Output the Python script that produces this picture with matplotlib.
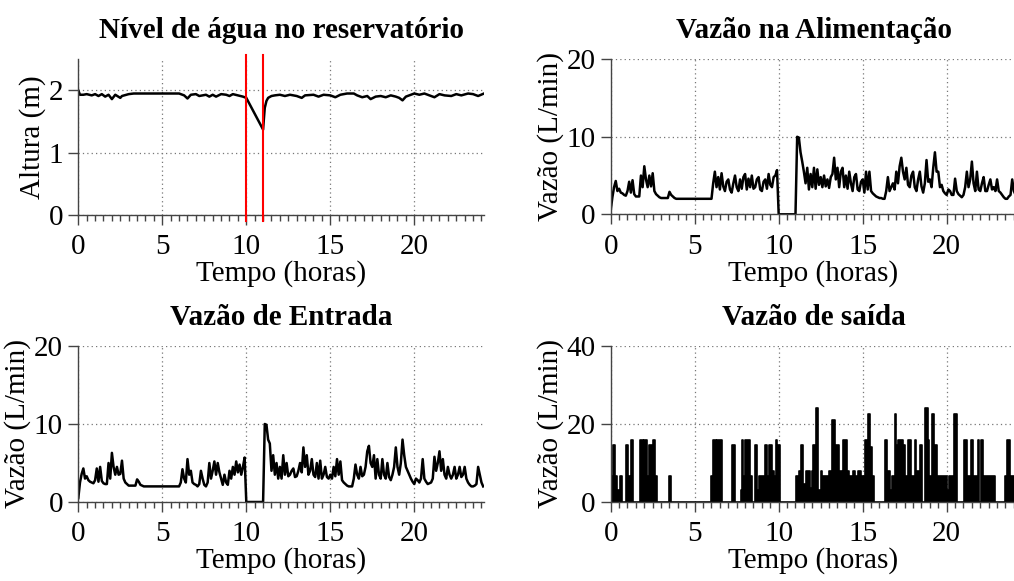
import numpy as np
import matplotlib
matplotlib.use('Agg')
import matplotlib.pyplot as plt

plt.rcParams['font.family'] = ['Liberation Serif', 'DejaVu Serif']
plt.rcParams['mathtext.fontset'] = 'stix'

# ---- dados (tempo em horas) ----

# nível do reservatório (m)
t_nivel = [0.0, 0.1, 0.3, 0.5, 0.8, 1.0, 1.2, 1.4, 1.6, 1.8, 2.0, 2.2, 2.5, 2.6,
           3.0, 3.3, 3.5, 6.0, 6.3, 6.5, 6.7, 7.0, 7.2, 7.6, 7.8, 8.0, 8.2, 8.5,
           8.8, 9.0, 9.2, 9.5, 9.8, 10.0, 11.0, 11.05, 11.1, 11.2, 11.3, 11.5,
           11.7, 12.0, 12.3, 12.6, 13.0, 13.3, 13.5, 14.0, 14.3, 14.6, 15.0,
           15.3, 15.6, 16.0, 16.4, 16.6, 16.9, 17.2, 17.4, 17.7, 18.0, 18.3,
           18.6, 18.9, 19.1, 19.3, 19.5, 19.8, 20.0, 20.3, 20.6, 20.9, 21.2,
           21.5, 21.8, 22.2, 22.5, 22.8, 23.2, 23.5, 23.8, 24.15]
nivel = [2.0, 1.93, 1.93, 1.94, 1.92, 1.94, 1.91, 1.94, 1.90, 1.93, 1.86, 1.93,
         1.88, 1.91, 1.94, 1.95, 1.95, 1.95, 1.92, 1.87, 1.93, 1.94, 1.91, 1.93,
         1.90, 1.93, 1.90, 1.94, 1.93, 1.91, 1.94, 1.92, 1.90, 1.88, 1.37, 1.55,
         1.72, 1.83, 1.88, 1.91, 1.92, 1.93, 1.91, 1.93, 1.91, 1.88, 1.92, 1.93,
         1.90, 1.93, 1.92, 1.89, 1.93, 1.95, 1.95, 1.92, 1.89, 1.91, 1.86, 1.90,
         1.91, 1.89, 1.92, 1.90, 1.88, 1.84, 1.90, 1.93, 1.95, 1.93, 1.95, 1.92,
         1.89, 1.94, 1.92, 1.91, 1.94, 1.92, 1.95, 1.94, 1.91, 1.95]

# instantes da falha na alimentação
t_falha = [10.0, 11.0]

# vazões amostradas a cada 0.1 h (L/min)
dt = 0.1
q_alim = [
    0.5, 2.2, 3.5, 4.3, 3.0, 3.3, 2.8, 2.7, 2.5, 2.4,
    3.0, 4.2, 2.8, 4.4, 2.6, 2.3, 2.3, 2.3, 5.0, 3.5,
    6.2, 4.5, 3.5, 5.0, 3.6, 5.3, 3.0, 2.6, 2.4, 2.2,
    2.1, 2.1, 2.1, 2.1, 2.1, 2.9, 2.5, 2.3, 2.1, 2.0,
    2.0, 2.0, 2.0, 2.0, 2.0, 2.0, 2.0, 2.0, 2.0, 2.0,
    2.0, 2.0, 2.0, 2.0, 2.0, 2.0, 2.0, 2.0, 2.0, 2.0,
    2.0, 4.0, 5.5, 3.5, 4.8, 3.2, 5.3, 3.6, 3.0, 4.2,
    4.5, 3.2, 2.8, 4.0, 5.0, 3.5, 3.0, 4.5, 3.3, 4.8,
    5.2, 3.2, 4.6, 3.5, 5.0, 3.3, 3.5, 4.5, 4.8, 3.2,
    3.0, 4.2, 4.5, 3.3, 5.2, 3.8, 3.5, 4.8, 5.0, 5.7,
    0.0, 0.0, 0.0, 0.0, 0.0, 0.0, 0.0, 0.0, 0.0, 0.0,
    0.0, 10.0, 9.9, 8.0, 6.8, 5.5, 4.0, 6.0, 3.2, 5.2,
    3.5, 6.0, 3.3, 5.8, 3.8, 4.8, 3.5, 5.0, 3.6, 4.5,
    3.4, 4.8, 5.2, 7.3, 4.5, 6.0, 3.5, 5.5, 6.0, 3.5,
    5.0, 3.3, 5.5, 4.0, 3.0, 4.8, 5.2, 3.2, 3.0, 4.2,
    4.5, 2.8, 5.5, 3.2, 5.5, 3.0, 2.7, 2.5, 2.3, 2.2,
    2.1, 2.1, 2.0, 2.0, 3.0, 4.8, 3.0, 3.5, 4.0, 3.2,
    5.5, 4.0, 6.2, 7.3, 5.5, 4.5, 6.0, 3.8, 3.5, 5.0,
    5.5, 3.5, 3.0, 4.5, 5.5, 3.6, 2.8, 4.0, 7.0, 4.2,
    4.5, 3.5, 6.0, 8.0, 5.5, 5.5, 3.5, 3.8, 3.0, 2.7,
    2.5, 3.2, 3.0, 2.5, 2.5, 4.6, 3.0, 2.6, 2.4, 2.2,
    2.5, 3.5, 5.5, 3.5, 4.5, 6.8, 4.0, 3.0, 5.5, 3.2,
    3.0, 4.0, 4.8, 3.0, 3.0, 3.8, 4.5, 3.2, 3.5, 3.0,
    4.5, 3.0, 2.8, 2.5, 2.2, 2.0, 2.0, 2.3, 2.5, 4.5,
    3.0, 2.5,
]
q_ent = [
    0.5, 2.5, 3.6, 4.3, 3.0, 3.3, 2.8, 2.6, 2.5, 2.4,
    2.8, 4.3, 2.6, 4.5, 2.7, 2.4, 2.3, 2.3, 5.0, 3.0,
    6.3, 4.5, 3.5, 4.5, 3.5, 3.6, 5.3, 3.0, 2.5, 2.3,
    2.1, 2.1, 2.1, 2.1, 2.1, 2.9, 2.6, 2.2, 2.1, 2.0,
    2.0, 2.0, 2.0, 2.0, 2.0, 2.0, 2.0, 2.0, 2.0, 2.0,
    2.0, 2.0, 2.0, 2.0, 2.0, 2.0, 2.0, 2.0, 2.0, 2.0,
    2.0, 2.5, 4.2, 3.0, 2.5, 5.5, 3.5, 4.0, 2.5, 2.3,
    2.2, 2.0, 2.3, 4.0, 3.0, 2.2, 2.0, 2.5, 5.0, 3.0,
    4.0, 5.2, 3.5, 5.0, 3.8, 3.0, 2.2, 3.5, 2.5, 2.2,
    4.0, 3.0, 4.5, 3.5, 5.2, 3.8, 4.8, 3.5, 4.5, 5.7,
    0.0, 0.0, 0.0, 0.0, 0.0, 0.0, 0.0, 0.0, 0.0, 0.0,
    0.0, 10.0, 9.9, 8.0, 7.5, 4.0, 6.0, 3.5, 5.0, 3.0,
    4.5, 3.0, 6.0, 3.5, 5.0, 3.3, 3.5, 4.0, 4.3, 3.2,
    3.3, 4.0, 5.0, 3.8, 7.0, 4.5, 6.0, 3.5, 4.0, 5.5,
    3.5, 3.2, 5.0, 3.0, 5.3, 3.0, 3.5, 4.5, 3.2, 3.0,
    3.5, 3.0, 4.5, 3.3, 5.5, 3.5, 5.2, 2.8, 2.5, 2.3,
    2.1, 2.0, 2.0, 2.0, 3.0, 4.8, 3.5, 3.0, 4.5, 3.3,
    3.5, 4.5, 6.5, 7.2, 5.0, 4.5, 6.0, 3.0, 5.5, 3.5,
    3.0, 5.5, 3.5, 3.0, 5.0, 3.2, 2.8, 3.5, 4.5, 7.0,
    4.5, 3.5, 5.0, 8.0, 6.0, 4.5, 4.0, 3.5, 3.0, 2.6,
    2.3, 3.0, 2.8, 2.5, 3.0, 5.5, 3.0, 2.6, 2.3, 2.4,
    2.5, 3.0, 5.8, 4.0, 5.0, 6.5, 4.0, 5.5, 3.5, 3.0,
    4.5, 3.5, 3.0, 3.5, 4.5, 3.0, 3.5, 4.5, 3.2, 3.5,
    4.5, 3.0, 2.5, 2.2, 2.0, 2.0, 2.1, 2.3, 4.5, 3.5,
    2.5, 2.0,
]

# vazão de saída: degraus (início de cada patamar, valor do patamar)
t_saida = [0.0, 0.15, 0.28, 0.4, 0.55, 0.65, 0.9, 1.03, 1.15, 1.23, 1.35, 1.75,
           1.95, 2.0, 2.14, 2.28, 2.5, 2.63, 2.73, 3.47, 3.58, 5.96, 6.1, 6.24,
           6.33, 6.6, 7.23, 7.37, 7.76, 7.8, 7.9, 8.0, 8.28, 8.4, 8.6, 8.71,
           8.85, 9.2, 9.3, 9.45, 9.58, 9.7, 9.82, 9.9, 10.05, 11.05, 11.2,
           11.35, 11.45, 11.6, 11.85, 12.0, 12.05, 12.25, 12.35, 12.5, 12.6,
           13.0, 13.2, 13.35, 13.6, 13.75, 13.85, 14.05, 14.2, 14.4, 14.55,
           14.7, 14.9, 15.15, 15.3, 15.45, 15.55, 15.7, 16.35, 16.45, 16.6,
           16.75, 16.9, 17.0, 17.1, 17.4, 17.5, 17.7, 17.85, 18.1, 18.2, 18.4,
           18.55, 18.7, 18.9, 18.95, 19.1, 19.25, 19.4, 20.0, 20.15, 20.45,
           20.6, 21.05, 21.2, 21.45, 21.55, 21.85, 21.95, 22.05, 22.15, 22.25,
           22.9, 23.5, 23.6, 23.75, 24.15]
q_saida = [6.7, 14.5, 6.7, 3.2, 6.7, 0.0, 14.5, 6.7, 0.0, 16.0, 0.0, 16.0,
           0.0, 16.0, 6.7, 14.5, 16.0, 6.7, 0.0, 6.7, 0.0, 6.7, 16.0, 6.7,
           16.0, 0.0, 14.5, 0.0, 3.2, 16.0, 6.7, 16.0, 6.7, 0.0, 14.5, 3.2,
           6.7, 14.5, 6.7, 14.5, 8.0, 6.7, 16.0, 14.5, 0.0, 6.7, 8.0,
           14.5, 4.5, 8.0, 3.5, 8.0, 14.5, 24.0, 3.2, 8.0, 6.7,
           8.0, 21.0, 14.5, 8.0, 3.2, 16.0, 8.0, 6.7, 8.0, 6.7,
           8.0, 6.7, 16.0, 22.5, 14.0, 6.7, 0.0, 16.0, 8.0, 3.2,
           6.7, 22.5, 14.5, 16.0, 14.5, 6.7, 16.0, 6.7, 16.0, 8.0, 14.5,
           0.0, 24.0, 16.0, 6.7, 22.5, 14.5, 6.7, 3.2, 6.7, 22.5,
           0.0, 16.0, 6.7, 16.0, 6.7, 16.0, 0.0, 16.0, 0.0, 6.7,
           0.0, 6.7, 16.0, 6.7, 6.7]

t_alim = np.arange(len(q_alim)) * dt
t_ent = np.arange(len(q_ent)) * dt

# ---- figura ----
fig = plt.figure(figsize=(10.14, 5.81), dpi=100)

W, H = 1014, 581
def eixo(x0, y0, x1, y1):
    return fig.add_axes([x0 / W, 1 - y1 / H, (x1 - x0) / W, (y1 - y0) / H])

ax_niv = eixo(78.3, 59.3, 484.0, 214.8)
ax_ali = eixo(610.7, 59.3, 1016.4, 214.3)
ax_ent = eixo(78.3, 346.0, 484.0, 502.0)
ax_sai = eixo(610.7, 346.0, 1016.4, 502.0)

FS = 21
XMAX = 24.15

def estilo(ax, titulo, ylabel, yticks, ytop=None):
    ax.set_xlim(0, XMAX)
    ax.set_ylim(yticks[0], ytop if ytop is not None else yticks[-1])
    ax.set_xticks([0, 5, 10, 15, 20])
    ax.set_xticks(np.arange(0, 24.1, 0.5), minor=True)
    ax.set_yticks(yticks)
    for s in ['top', 'right']:
        ax.spines[s].set_visible(False)
    for s in ['left', 'bottom']:
        ax.spines[s].set_color('#444444')
        ax.spines[s].set_linewidth(1.0)
    ax.tick_params(axis='both', which='major', direction='out', length=7,
                   width=1.0, color='#444444', labelsize=FS, pad=4)
    ax.tick_params(axis='x', which='major', pad=7)
    ax.tick_params(axis='x', which='minor', direction='out', length=4,
                   width=1.0, color='#444444')
    ax.grid(True, which='major', color='#777777', linestyle=(0, (1, 2.5)),
            linewidth=0.9)
    ax.set_axisbelow(True)
    ax.set_title(titulo, fontsize=FS, fontweight='bold', pad=15)
    ax.set_xlabel('Tempo (horas)', fontsize=FS, labelpad=0)
    ax.set_ylabel(ylabel, fontsize=FS, labelpad=2)

# nível de água
ax_niv.plot(t_nivel, nivel, color='black', lw=1.8)
for tf in t_falha:
    ax_niv.axvline(tf, ymin=-0.04, ymax=1.025, color='red', lw=1.5,
                   clip_on=False, zorder=5)
estilo(ax_niv, 'Nível de água no reservatório', 'Altura (m)', [0, 1, 2], 2.5)

# vazão na alimentação
ax_ali.plot(t_alim, q_alim, color='black', lw=1.8)
estilo(ax_ali, 'Vazão na Alimentação', 'Vazão (L/min)', [0, 10, 20])

# vazão de entrada
ax_ent.plot(t_ent, q_ent, color='black', lw=1.8)
estilo(ax_ent, 'Vazão de Entrada', 'Vazão (L/min)', [0, 10, 20])

# vazão de saída
ax_sai.fill_between(t_saida, q_saida, 0, step='post', color='black', lw=0)
ax_sai.step(t_saida, q_saida, where='post', color='black', lw=1.2)
estilo(ax_sai, 'Vazão de saída', 'Vazão (L/min)', [0, 20, 40])

fig.savefig('out.png', dpi=100)
